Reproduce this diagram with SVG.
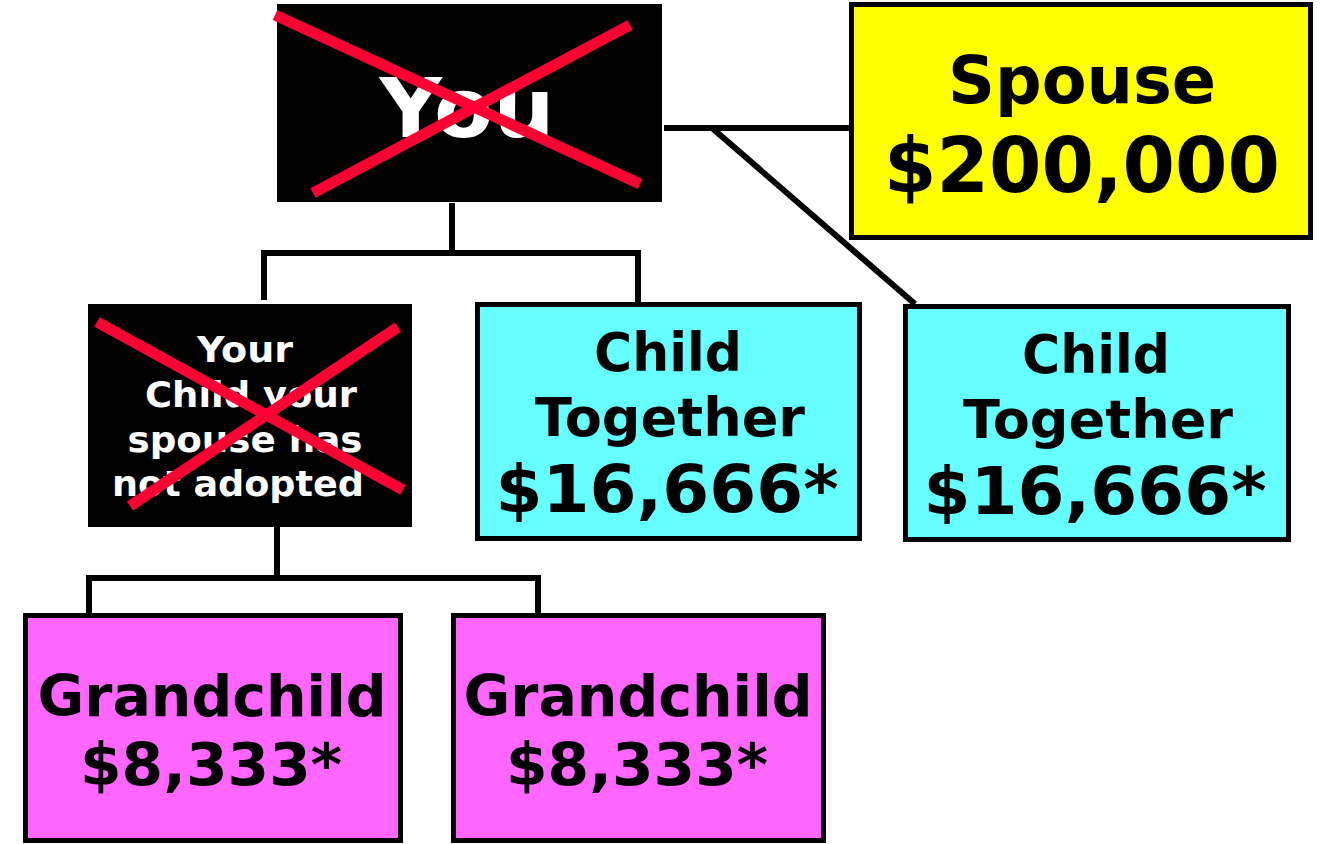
<svg xmlns="http://www.w3.org/2000/svg" width="1328" height="844" viewBox="0 0 1328 844">
<style>
.t{font-family:"DejaVu Sans","Verdana",sans-serif;font-weight:bold;text-anchor:middle}
.w{fill:#fff}
.k{fill:#000}
.box{stroke:#000;stroke-width:5}
.con{stroke:#000;stroke-width:6;fill:none}
.x{stroke:#FF0033;stroke-width:11;stroke-linecap:butt}
</style>
<rect width="1328" height="844" fill="#fff"/>
<g id="connectors">
<line class="con" x1="664" y1="128" x2="851" y2="128"/>
<line class="con" x1="712" y1="128" x2="915" y2="304"/>
<polyline class="con" points="452,203 452,253"/>
<polyline class="con" points="264,300 264,253 638,253 638,302"/>
<polyline class="con" points="277,527 277,578"/>
<polyline class="con" points="89,614 89,578 538,578 538,614"/>
</g>
<g id="you">
<rect x="277" y="4" width="385" height="198" fill="#000"/>
<text class="t w" x="467" y="137" font-size="82" textLength="175" lengthAdjust="spacingAndGlyphs">You</text>
<line class="x" x1="275" y1="15" x2="640" y2="184"/>
<line class="x" x1="313" y1="193" x2="630" y2="25"/>
</g>
<g id="spouse">
<rect class="box" x="851.5" y="4.5" width="459" height="233" fill="#FFFF00"/>
<text class="t k" x="1082" y="103" font-size="66" textLength="268" lengthAdjust="spacingAndGlyphs">Spouse</text>
<text class="t k" x="1082" y="192" font-size="76" textLength="396" lengthAdjust="spacingAndGlyphs">$200,000</text>
</g>
<g id="your-child">
<rect x="88" y="304" width="324" height="223" fill="#000"/>
<text class="t w" x="245" y="362" font-size="36" textLength="96" lengthAdjust="spacingAndGlyphs">Your</text>
<text class="t w" x="251" y="407" font-size="36" textLength="212" lengthAdjust="spacingAndGlyphs">Child your</text>
<text class="t w" x="245" y="452" font-size="36" textLength="235" lengthAdjust="spacingAndGlyphs">spouse has</text>
<text class="t w" x="238" y="496" font-size="36" textLength="252" lengthAdjust="spacingAndGlyphs">not adopted</text>
<line class="x" x1="97" y1="322" x2="403" y2="490"/>
<line class="x" x1="130" y1="506" x2="398" y2="327"/>
</g>
<g id="child-together-1">
<rect class="box" x="477.5" y="304.5" width="382" height="234" fill="#66FFFF"/>
<text class="t k" x="668" y="371" font-size="54" textLength="148" lengthAdjust="spacingAndGlyphs">Child</text>
<text class="t k" x="670" y="436" font-size="54" textLength="270" lengthAdjust="spacingAndGlyphs">Together</text>
<text class="t k" x="667" y="512" font-size="66" textLength="343" lengthAdjust="spacingAndGlyphs">$16,666*</text>
</g>
<g id="child-together-2">
<rect class="box" x="905.5" y="306.5" width="383" height="233" fill="#66FFFF"/>
<text class="t k" x="1096" y="373" font-size="54" textLength="148" lengthAdjust="spacingAndGlyphs">Child</text>
<text class="t k" x="1098" y="438" font-size="54" textLength="270" lengthAdjust="spacingAndGlyphs">Together</text>
<text class="t k" x="1095" y="514" font-size="66" textLength="343" lengthAdjust="spacingAndGlyphs">$16,666*</text>
</g>
<g id="grandchild-1">
<rect class="box" x="25.5" y="615.5" width="375" height="225" fill="#FF66FF"/>
<text class="t k" x="212" y="716" font-size="57" textLength="349" lengthAdjust="spacingAndGlyphs">Grandchild</text>
<text class="t k" x="211" y="785" font-size="59" textLength="262" lengthAdjust="spacingAndGlyphs">$8,333*</text>
</g>
<g id="grandchild-2">
<rect class="box" x="453.5" y="615.5" width="370" height="225" fill="#FF66FF"/>
<text class="t k" x="638" y="716" font-size="57" textLength="349" lengthAdjust="spacingAndGlyphs">Grandchild</text>
<text class="t k" x="637" y="785" font-size="59" textLength="262" lengthAdjust="spacingAndGlyphs">$8,333*</text>
</g>
</svg>
